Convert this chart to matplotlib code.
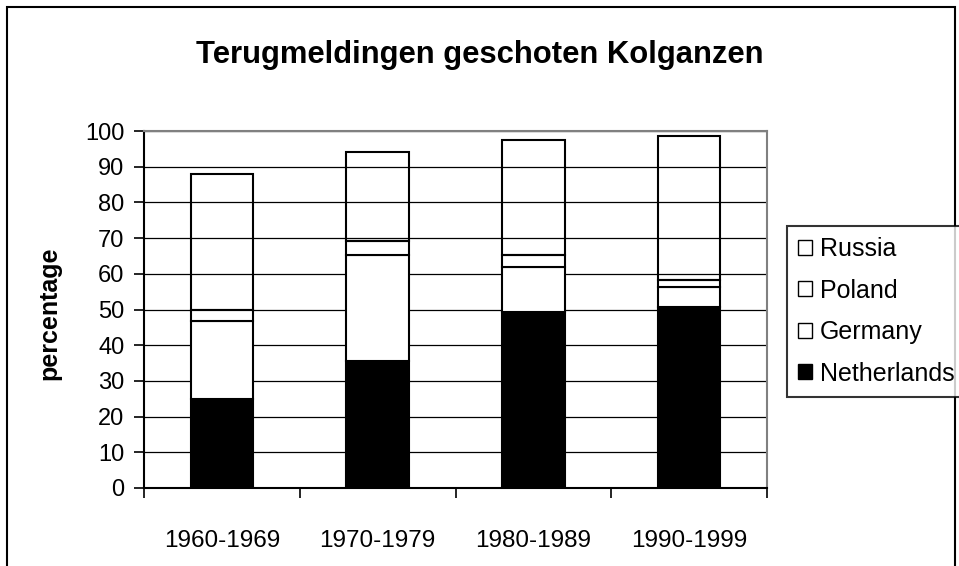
import numpy as np
import matplotlib.pyplot as plt
from matplotlib.patches import Rectangle, Patch

periods = ['1960-1969', '1970-1979', '1980-1989', '1990-1999']
netherlands = [25.0, 35.7, 49.3, 50.7]
germany = [21.8, 29.7, 12.7, 5.6]
poland = [3.1, 3.9, 3.4, 2.0]
russia = [38.0, 24.8, 32.1, 40.2]

plt.rcParams['font.family'] = ['Liberation Sans', 'DejaVu Sans']

fig = plt.figure(figsize=(9.59, 5.66), dpi=100)
ax = fig.add_axes([144 / 959, 1 - 488 / 566, 623 / 959, 357 / 566])

x = np.arange(len(periods))
w = 0.4
nl = np.array(netherlands)
ge = np.array(germany)
po = np.array(poland)
ru = np.array(russia)

ax.bar(x, nl, w, color='black', edgecolor='black', linewidth=1.5, zorder=3)
ax.bar(x, ge, w, bottom=nl, color='white', edgecolor='black', linewidth=1.5, zorder=3)
ax.bar(x, po, w, bottom=nl + ge, color='white', edgecolor='black', linewidth=1.5, zorder=3)
ax.bar(x, ru, w, bottom=nl + ge + po, facecolor='none', edgecolor='black', linewidth=1.5, zorder=3)

ax.set_xlim(-0.5, 3.5)
ax.set_ylim(0, 100)
ax.set_yticks(np.arange(0, 101, 10))
ax.yaxis.grid(True, color='black', linewidth=0.9, zorder=0)
ax.set_axisbelow(True)

ax.set_xticks(x)
ax.set_xticklabels(periods, fontsize=17.5)
ax.set_xticks(np.arange(-0.5, 4, 1), minor=True)
ax.tick_params(axis='x', which='major', length=0, pad=30)
ax.tick_params(axis='x', which='minor', length=7, width=1.2, direction='out')
ax.tick_params(axis='y', length=7, width=1.2, direction='out', labelsize=17, pad=7)

for s in ['top', 'right']:
    ax.spines[s].set_color('#808080')
    ax.spines[s].set_linewidth(1.5)
for s in ['left', 'bottom']:
    ax.spines[s].set_linewidth(1.5)

ax.set_ylabel('percentage', fontsize=18, fontweight='bold')
ax.yaxis.set_label_coords(-0.132, 0.49)

fig.text(0.5, 1 - 55 / 566, 'Terugmeldingen geschoten Kolganzen',
         ha='center', va='center', fontsize=22.3, fontweight='bold')

handles = [Patch(facecolor='white', edgecolor='black', linewidth=1, label='Russia'),
           Patch(facecolor='white', edgecolor='black', linewidth=1, label='Poland'),
           Patch(facecolor='white', edgecolor='black', linewidth=1, label='Germany'),
           Patch(facecolor='black', edgecolor='black', linewidth=1, label='Netherlands')]
leg = fig.legend(handles=handles, loc='upper left', bbox_to_anchor=(787 / 959, 1 - 226 / 566),
                 fontsize=18, frameon=True, fancybox=False, edgecolor='black',
                 handlelength=0.55, handleheight=0.55, handletextpad=0.3,
                 labelspacing=0.7, borderpad=0.45, borderaxespad=0)
leg.get_frame().set_linewidth(1.5)

fig.patches.append(Rectangle((7 / 959, -0.1), 948 / 959, 1 - 7 / 566 + 0.1,
                             transform=fig.transFigure, fill=False,
                             edgecolor='black', linewidth=1.5))

fig.savefig('out.png', dpi=100)
